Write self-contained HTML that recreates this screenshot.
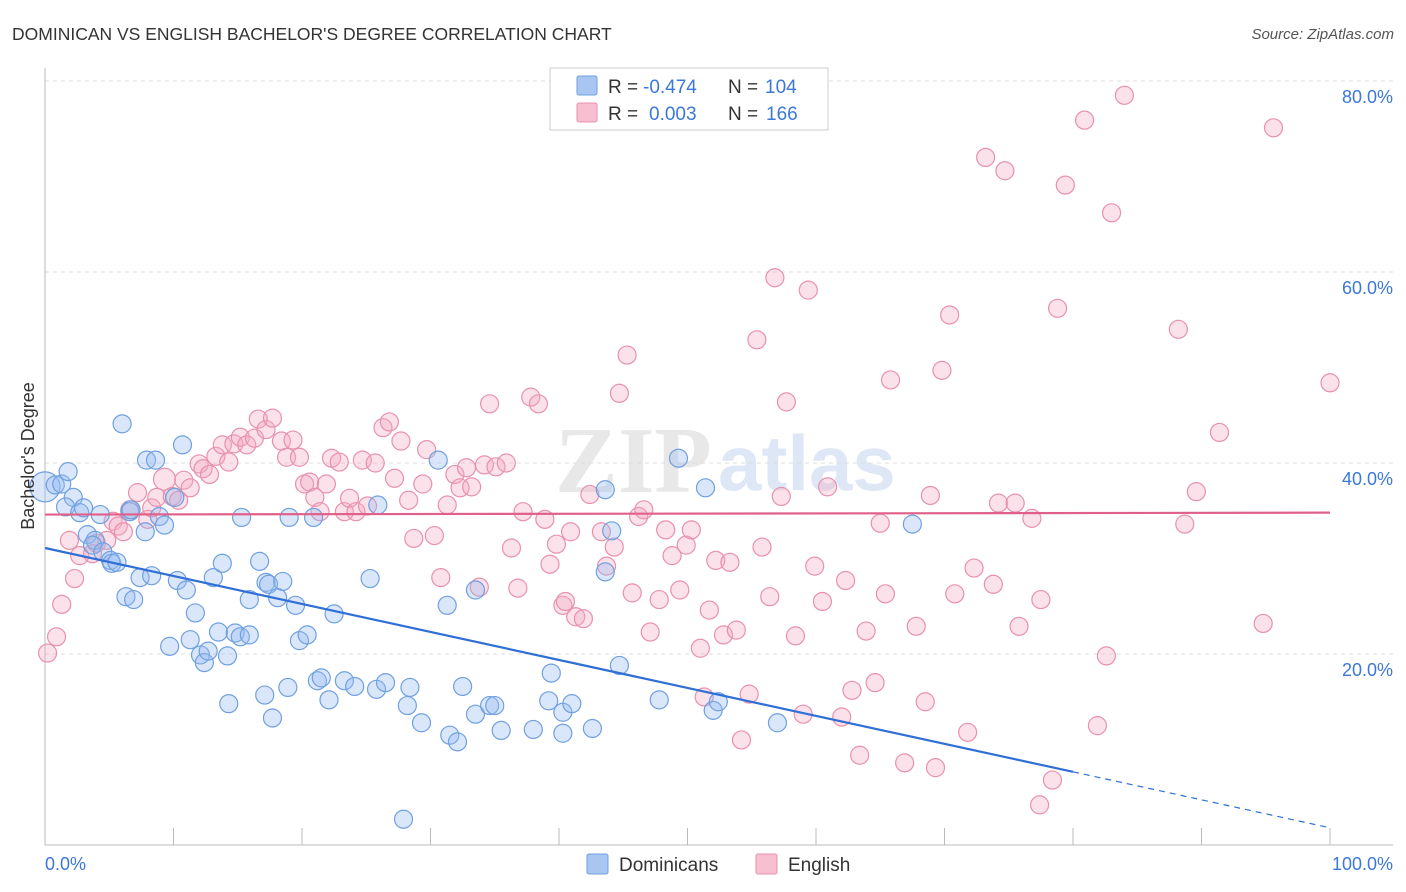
<!DOCTYPE html>
<html><head><meta charset="utf-8">
<style>
body{margin:0;background:#fff;font-family:"Liberation Sans",sans-serif;}
#wrap{position:relative;width:1406px;height:892px;overflow:hidden;}
</style></head>
<body>
<div id="wrap">
<svg id="chart" width="1406" height="892" xmlns="http://www.w3.org/2000/svg">
<text x="12" y="40" font-size="17.5" fill="#333">DOMINICAN VS ENGLISH BACHELOR'S DEGREE CORRELATION CHART</text>
<text x="1394" y="39" font-size="15" fill="#555" font-style="italic" text-anchor="end">Source: ZipAtlas.com</text>
<g>
<text x="555" y="492" font-size="94" fill="#e8e8e8" font-family="Liberation Serif,serif" font-weight="bold">ZIP</text>
<text x="718" y="490" font-size="78" fill="#dde7f6" font-weight="bold">atlas</text>
</g>
<g id="grid"></g>
<g id="axes"></g>
<g id="pts"></g>
<g id="lines"></g>
<text transform="translate(34,456) rotate(-90)" font-size="18" fill="#333" text-anchor="middle">Bachelor's Degree</text>
<g>
<rect x="550" y="68" width="278" height="62" fill="#fff" stroke="#ccc"/>
<rect x="577" y="76" width="20" height="19" fill="#a9c6f2" stroke="#6fa0e0" rx="2"/>
<rect x="577" y="103" width="20" height="19" fill="#f7bfd0" stroke="#e891ad" rx="2"/>
<text x="608" y="93" font-size="19" fill="#333">R =</text>
<text x="643" y="93" font-size="19" fill="#3b78d8">-0.474</text>
<text x="728" y="93" font-size="19" fill="#333">N =</text>
<text x="765" y="93" font-size="19" fill="#3b78d8">104</text>
<text x="608" y="120" font-size="19" fill="#333">R =</text>
<text x="649" y="120" font-size="19" fill="#3b78d8">0.003</text>
<text x="728" y="120" font-size="19" fill="#333">N =</text>
<text x="766" y="120" font-size="19" fill="#3b78d8">166</text>
</g>
<g>
<rect x="587" y="854" width="21" height="20" fill="#a9c6f2" stroke="#6fa0e0" rx="2"/>
<text x="619" y="871" font-size="19" fill="#333">Dominicans</text>
<rect x="756" y="854" width="21" height="20" fill="#f7bfd0" stroke="#e891ad" rx="2"/>
<text x="788" y="871" font-size="19" fill="#333">English</text>
</g>
</svg>
</div>
<script>
const yTicks=[20,40,60,80];
const yTickLabels=["20.0%","40.0%","60.0%","80.0%"];
const xTickVals=[0,10,20,30,40,50,60,70,80,90,100];
const xEndLabels=["0.0%","100.0%"];
const blueX=[0,0.8,1.3,1.8,2.2,1.6,2.7,3.0,4.3,3.3,3.9,3.7,4.5,5.1,5.2,5.6,6.0,6.6,6.7,7.8,7.9,8.6,8.9,9.3,10.1,10.7,6.3,6.9,7.4,8.3,9.7,10.3,11.0,11.7,11.3,12.1,12.4,12.7,13.1,13.8,13.5,14.2,14.3,14.8,15.2,15.9,15.3,15.9,16.7,17.2,17.4,18.5,18.1,19.0,19.5,19.8,20.4,20.9,22.5,17.1,17.7,18.9,21.2,21.5,22.1,23.3,24.1,25.8,26.5,25.9,25.3,28.2,28.4,29.3,30.6,31.3,31.5,32.1,32.5,33.5,33.5,34.6,35.0,35.5,38.0,39.2,39.4,40.3,40.3,41.0,42.6,43.6,43.6,44.1,44.7,47.8,49.3,51.4,52.0,52.4,57.0,67.5,27.9];
const blueY=[37.5,37.7,37.8,39.1,36.4,35.4,34.8,35.3,34.6,32.5,31.9,31.4,30.7,29.8,29.5,29.6,44.1,34.9,35.1,32.8,40.3,40.3,34.4,33.5,36.4,41.9,26.0,25.7,28.0,28.2,20.8,27.7,26.7,24.3,21.5,19.9,19.1,20.3,28.0,29.5,22.3,19.8,14.8,22.2,21.8,22.0,34.3,25.7,29.7,27.5,27.3,27.6,25.9,34.3,25.1,21.4,22.0,34.3,24.2,15.7,13.3,16.5,17.2,17.5,15.2,17.2,16.6,16.3,17.0,35.6,27.9,14.6,16.5,12.8,40.3,25.1,11.5,10.8,16.6,26.7,13.7,14.6,14.6,12.0,12.1,15.1,18.0,13.9,11.7,14.8,12.2,37.2,28.6,32.9,18.8,15.2,40.5,37.4,14.1,15.0,12.8,33.6,2.7];
const pinkX=[0.2,0.9,1.3,1.9,2.3,2.7,3.7,4.0,4.8,5.3,5.7,6.1,6.6,7.2,8.0,8.3,8.7,9.3,9.9,10.4,10.8,11.3,12.0,12.3,12.8,13.3,13.8,14.3,14.7,15.2,15.7,16.3,16.6,17.2,17.7,18.4,18.8,19.3,19.8,20.2,20.6,21.0,21.4,21.9,22.3,22.9,23.3,23.7,24.2,24.7,25.1,25.7,26.3,26.8,27.2,27.7,28.3,28.7,29.4,29.7,30.3,30.8,31.3,31.9,32.3,32.8,33.2,33.8,34.2,34.6,35.1,35.9,36.3,36.8,37.2,37.8,38.4,38.9,39.3,39.8,40.3,40.5,40.9,41.3,41.9,42.4,43.3,43.7,44.3,44.7,45.3,45.7,46.2,46.6,47.1,47.8,48.3,48.8,49.4,49.9,50.3,51.0,51.3,51.7,52.2,52.8,53.3,53.8,54.2,54.8,55.4,55.8,56.4,56.8,57.3,57.7,58.4,59.0,59.4,59.9,60.5,60.9,62.0,62.3,62.8,63.4,63.9,64.6,65.0,65.4,65.8,66.9,67.8,68.5,68.9,69.3,69.8,70.4,70.8,71.8,72.3,73.2,73.8,74.2,74.7,75.5,75.8,76.8,77.5,77.4,78.4,78.8,79.4,80.9,81.9,82.6,83.0,84.0,88.2,88.7,89.6,91.4,94.8,95.6,100.0];
const pinkY=[20.1,21.8,25.2,31.9,27.9,30.3,30.5,31.6,31.9,33.9,33.4,32.8,35.1,36.9,34.1,35.3,36.4,38.3,36.5,36.1,38.2,37.4,39.9,39.4,38.8,40.7,41.9,40.1,42.0,42.7,41.9,42.6,44.6,43.5,44.7,42.3,40.6,42.4,40.6,37.8,38.0,36.4,34.9,37.8,40.5,40.1,34.9,36.3,34.9,40.3,35.5,40.0,43.7,44.3,38.4,42.3,36.1,32.1,37.8,41.4,32.4,28.0,35.6,38.8,37.4,39.5,37.5,27.0,39.8,46.2,39.6,40.0,31.1,26.9,34.9,46.9,46.2,34.1,29.4,31.5,25.1,25.5,32.8,23.9,23.7,36.7,32.8,29.2,31.2,47.3,51.3,26.4,34.4,35.1,22.3,25.7,33.0,30.3,26.7,31.4,33.0,20.6,15.5,24.6,29.8,22.0,29.6,22.5,11.0,15.8,52.9,31.2,26.0,59.4,36.5,46.4,21.9,13.7,58.1,29.2,25.5,37.5,13.4,27.7,16.2,9.4,22.4,17.0,33.7,26.3,48.7,8.6,22.9,15.0,36.6,8.1,49.7,55.5,26.3,11.8,29.0,72.0,27.3,35.8,70.6,35.8,22.9,34.2,25.7,4.2,6.8,56.2,69.1,75.9,12.5,19.8,66.2,78.5,54.0,33.6,37.0,43.2,23.2,75.1,48.4];
const blueTrend=[31.1,-0.293];
const pinkTrend=[34.6,0.002];

const NS="http://www.w3.org/2000/svg";
const X0=45,X1=1330,YB=845,YPX=9.55;
function sx(v){return X0+(X1-X0)*v/100;}
function sy(v){return YB-v*YPX;}
function mk(tag,attrs,parent){const e=document.createElementNS(NS,tag);for(const k in attrs)e.setAttribute(k,attrs[k]);parent.appendChild(e);return e;}
const grid=document.getElementById('grid'),axes=document.getElementById('axes'),pts=document.getElementById('pts'),lines=document.getElementById('lines');
yTicks.forEach((t,i)=>{
  const l=mk('line',{x1:X0,x2:1393,y1:sy(t),y2:sy(t),stroke:'#ddd','stroke-dasharray':'4,4'},grid);
  
  
  const tx=mk('text',{x:1393,y:sy(t)+22,'font-size':18,fill:'#3b78d8','text-anchor':'end'},axes);
  tx.textContent=yTickLabels[i];
  
  
});
let a=mk('line',{x1:X0,x2:X0,y1:68,y2:YB,stroke:'#bbb'},axes);


a=mk('line',{x1:X0,x2:1393,y1:YB,y2:YB,stroke:'#bbb'},axes);


xTickVals.forEach(v=>{
  const t=mk('line',{x1:sx(v),x2:sx(v),y1:828,y2:YB,stroke:'#bbb'},axes);
  
  
});
let xl=mk('text',{x:45,y:870,'font-size':18,fill:'#3b78d8'},axes);xl.textContent=xEndLabels[0];


xl=mk('text',{x:1393,y:870,'font-size':18,fill:'#3b78d8','text-anchor':'end'},axes);xl.textContent=xEndLabels[1];


pinkX.forEach((v,i)=>{
  const c=mk('circle',{cx:sx(v),cy:sy(pinkY[i]),r:(i==17?11:9),fill:'rgba(244,170,195,0.35)',stroke:'#e891ad','stroke-width':1.2},pts);
  
  
});
blueX.forEach((v,i)=>{
  const c=mk('circle',{cx:sx(v),cy:sy(blueY[i]),r:(i==0?15:9),fill:'rgba(150,185,240,0.35)',stroke:'#6fa0e0','stroke-width':1.2},pts);
  
  
});
let ln=mk('line',{x1:sx(0),y1:sy(blueTrend[0]),x2:sx(80),y2:sy(blueTrend[0]+blueTrend[1]*80),stroke:'#2f6fd6','stroke-width':2.2},lines);


ln=mk('line',{x1:sx(80),y1:sy(blueTrend[0]+blueTrend[1]*80),x2:sx(100),y2:sy(blueTrend[0]+blueTrend[1]*100),stroke:'#2f6fd6','stroke-width':1.2,'stroke-dasharray':'6,5'},lines);


ln=mk('line',{x1:sx(0),y1:sy(pinkTrend[0]),x2:sx(100),y2:sy(pinkTrend[0]+pinkTrend[1]*100),stroke:'#e0608a','stroke-width':2.2},lines);


</script>
</body></html>
